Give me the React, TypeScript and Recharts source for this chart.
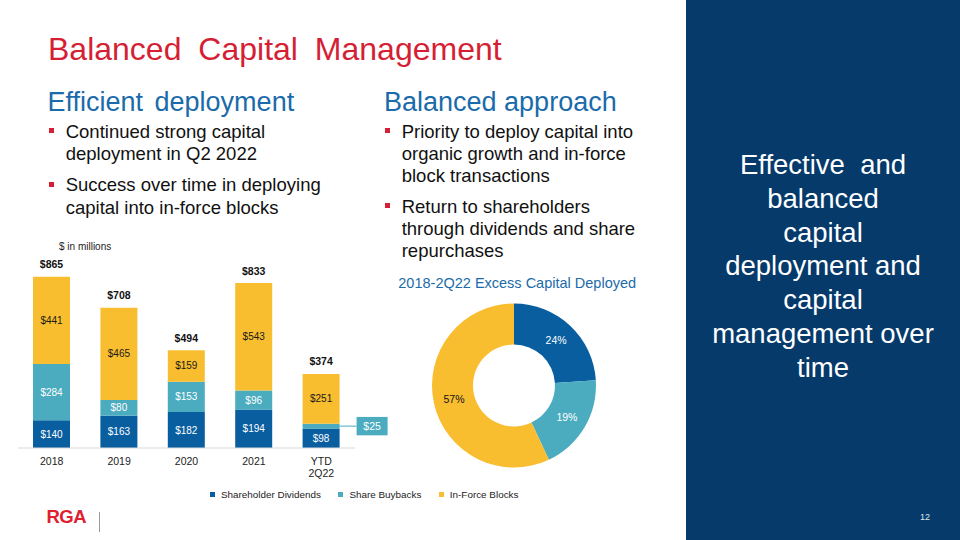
import { BarChart, Bar, XAxis, YAxis, Legend, LabelList, PieChart, Pie, Cell } from "recharts";

const FONT = "Arial, 'Liberation Sans', sans-serif";

const C = {
  div: "#085E9F",
  buy: "#4BACBF",
  ifb: "#F8BE30",
  red: "#D51F35",
  blue: "#1B6BAA",
  navy: "#053A6B",
};

// $ in millions
const years = ["2018", "2019", "2020", "2021", "YTD\n2Q22"];
const dividends = [140, 163, 182, 194, 98];
const buybacks = [284, 80, 153, 96, 25];
const inForce = [441, 465, 159, 543, 251];

// 2018-2Q22 excess capital deployed, %
const mixNames = ["Shareholder Dividends", "Share Buybacks", "In-Force Blocks"];
const mixPct = [24, 19, 57];
const mixColors = [C.div, C.buy, C.ifb];
const mixLabelColors = ["#fff", "#fff", "#111"];

const barData = years.map((y, i) => ({
  year: y,
  div: dividends[i],
  buy: buybacks[i],
  ifb: inForce[i],
  total: dividends[i] + buybacks[i] + inForce[i],
}));

const pieData = mixNames.map((n, i) => ({ name: n, value: mixPct[i] }));

const box = (p: any) => {
  const vb = p.viewBox || {};
  return {
    x: p.x ?? vb.x,
    y: p.y ?? vb.y,
    w: p.width ?? vb.width,
    h: p.height ?? vb.height,
  };
};

const YearTick = (props: any) => {
  const { x, y, payload } = props;
  const lines = String(payload.value).split("\n");
  return (
    <text x={x} y={y} textAnchor="middle" fontSize={10.5} fill="#222" fontFamily={FONT}>
      {lines.map((l, i) => (
        <tspan key={i} x={x} dy={i === 0 ? 17 : 11.7}>
          {l}
        </tspan>
      ))}
    </text>
  );
};

const makeInside = (color: string) => (props: any) => {
  const { x, y, w, h } = box(props);
  return (
    <text x={x + w / 2} y={y + h / 2} dy="0.355em" textAnchor="middle" fontSize={10} fill={color} fontFamily={FONT}>
      ${props.value}
    </text>
  );
};

const DivLabel = makeInside("#fff");
const IfbLabel = makeInside("#1a1a1a");

const BuyLabel = (props: any) => {
  const { x, y, w, h } = box(props);
  const cy = y + h / 2;
  if (props.value < 40) {
    const bx = x + w + 17;
    return (
      <g>
        <line x1={x + w} y1={cy} x2={bx} y2={cy} stroke={C.buy} strokeWidth={1} />
        <rect x={bx} y={cy - 9.2} width={31} height={18.4} fill={C.buy} />
        <text x={bx + 15.5} y={cy} dy="0.355em" textAnchor="middle" fontSize={10.5} fill="#fff" fontFamily={FONT}>
          ${props.value}
        </text>
      </g>
    );
  }
  return (
    <text x={x + w / 2} y={cy} dy="0.355em" textAnchor="middle" fontSize={10} fill="#fff" fontFamily={FONT}>
      ${props.value}
    </text>
  );
};

const TotalLabel = (props: any) => {
  const { x, y, w } = box(props);
  return (
    <text x={x + w / 2} y={y - 8.5} textAnchor="middle" fontSize={10.5} fontWeight="bold" fill="#111" fontFamily={FONT}>
      ${props.value}
    </text>
  );
};

const LegendContent = (props: any) => {
  const items = [...(props.payload || [])].sort(
    (a: any, b: any) => mixNames.indexOf(a.value) - mixNames.indexOf(b.value)
  );
  return (
    <div
      style={{
        display: "flex",
        height: 12,
        alignItems: "center",
        fontSize: 9.9,
        fontFamily: FONT,
        color: "#222",
        whiteSpace: "nowrap",
      }}
    >
      {items.map((p: any, i: number) => (
        <div key={i} style={{ display: "flex", alignItems: "center", marginRight: 17.5 }}>
          <span style={{ width: 5, height: 5, background: p.color, marginRight: 6, display: "inline-block" }} />
          <span>{p.value}</span>
        </div>
      ))}
    </div>
  );
};

const RAD = Math.PI / 180;
const PieLabel = (props: any) => {
  const { cx, cy, midAngle, innerRadius, outerRadius, value, index } = props;
  const r = (innerRadius + outerRadius) / 2;
  const x = cx + r * Math.cos(-midAngle * RAD);
  const y = cy + r * Math.sin(-midAngle * RAD);
  return (
    <text x={x} y={y} dy="0.355em" textAnchor="middle" fontSize={10.5} fill={mixLabelColors[index]} fontFamily={FONT}>
      {value}%
    </text>
  );
};

const abs = (left: number, top: number, extra: any = {}) => ({
  position: "absolute" as const,
  left,
  top,
  whiteSpace: "nowrap" as const,
  ...extra,
});

const Bullet = ({ left, top, lines }: { left: number; top: number; lines: string[] }) => (
  <div style={abs(left, top, { fontSize: 18.5, lineHeight: "22.2px", color: "#111" })}>
    <span style={{ position: "absolute", left: -16.5, top: 7.5, width: 4.5, height: 5, background: C.red }} />
    {lines.map((l, i) => (
      <div key={i}>{l}</div>
    ))}
  </div>
);

export default function App() {
  return (
    <div
      style={{
        position: "absolute",
        left: 0,
        top: 0,
        width: 960,
        height: 540,
        overflow: "hidden",
        background: "#fff",
        fontFamily: FONT,
      }}
    >
      <div style={abs(48, 32.9, { fontSize: 32, lineHeight: 1, color: C.red, wordSpacing: 8 })}>
        Balanced Capital Management
      </div>

      <div style={abs(47.5, 88.9, { fontSize: 27, lineHeight: 1, color: C.blue, wordSpacing: 4 })}>
        Efficient deployment
      </div>
      <div style={abs(384, 89.4, { fontSize: 27, lineHeight: 1, color: C.blue })}>Balanced approach</div>

      <Bullet left={65.7} top={120.9} lines={["Continued strong capital", "deployment in Q2 2022"]} />
      <Bullet left={65.7} top={174.3} lines={["Success over time in deploying", "capital into in-force blocks"]} />
      <Bullet
        left={401.7}
        top={120.7}
        lines={["Priority to deploy capital into", "organic growth and in-force", "block transactions"]}
      />
      <Bullet
        left={401.7}
        top={195.7}
        lines={["Return to shareholders", "through dividends and share", "repurchases"]}
      />

      <div style={abs(59, 242.2, { fontSize: 10, lineHeight: 1, color: "#222" })}>$ in millions</div>

      <div style={abs(0, 230)}>
        <BarChart width={400} height={290} data={barData} margin={{ top: 20, right: 45, bottom: 20, left: 18 }}>
          <XAxis
            dataKey="year"
            height={40}
            tickLine={false}
            tickSize={0}
            tickMargin={0}
            interval={0}
            axisLine={{ stroke: "#d9d9d9" }}
            tick={<YearTick />}
          />
          <YAxis hide domain={[0, 1000]} />
          <Legend
            verticalAlign="bottom"
            content={<LegendContent />}
            wrapperStyle={{ left: 210, width: 340 }}
          />
          <Bar dataKey="div" name="Shareholder Dividends" stackId="a" fill={C.div} barSize={37} isAnimationActive={false}>
            <LabelList dataKey="div" content={<DivLabel />} />
          </Bar>
          <Bar dataKey="buy" name="Share Buybacks" stackId="a" fill={C.buy} barSize={37} isAnimationActive={false}>
            <LabelList dataKey="buy" content={<BuyLabel />} />
          </Bar>
          <Bar dataKey="ifb" name="In-Force Blocks" stackId="a" fill={C.ifb} barSize={37} isAnimationActive={false}>
            <LabelList dataKey="ifb" content={<IfbLabel />} />
            <LabelList dataKey="total" content={<TotalLabel />} />
          </Bar>
        </BarChart>
      </div>

      <div style={abs(398.3, 276.2, { fontSize: 14.5, lineHeight: 1, color: C.blue })}>
        2018-2Q22 Excess Capital Deployed
      </div>

      <div style={abs(414, 285)}>
        <PieChart width={200} height={200} margin={{ top: 0, right: 0, bottom: 0, left: 0 }}>
          <Pie
            data={pieData}
            dataKey="value"
            nameKey="name"
            cx={100}
            cy={100.5}
            innerRadius={41}
            outerRadius={82}
            startAngle={90}
            endAngle={-270}
            stroke="none"
            label={PieLabel}
            labelLine={false}
            isAnimationActive={false}
          >
            {pieData.map((d, i) => (
              <Cell key={d.name} fill={mixColors[i]} />
            ))}
          </Pie>
        </PieChart>
      </div>

      <div style={abs(46.5, 508.3, { fontSize: 18.5, lineHeight: 1, fontWeight: "bold", color: "#E0202F", letterSpacing: -0.5 })}>
        RGA
      </div>
      <div style={abs(99, 511.7, { width: 1, height: 20, background: "#999" })} />

      <div style={{ position: "absolute", left: 686, top: 0, width: 274, height: 540, background: C.navy }}>
        <div
          style={{
            position: "absolute",
            left: 0,
            top: 148,
            width: 274,
            textAlign: "center",
            color: "#fff",
            fontSize: 27.5,
            lineHeight: "33.8px",
          }}
        >
          Effective&nbsp; and
          <br />
          balanced
          <br />
          capital
          <br />
          deployment and
          <br />
          capital
          <br />
          management over
          <br />
          time
        </div>
        <div style={{ position: "absolute", left: 234, top: 513, fontSize: 9, lineHeight: 1, color: "#dfe7f0" }}>12</div>
      </div>
    </div>
  );
}
